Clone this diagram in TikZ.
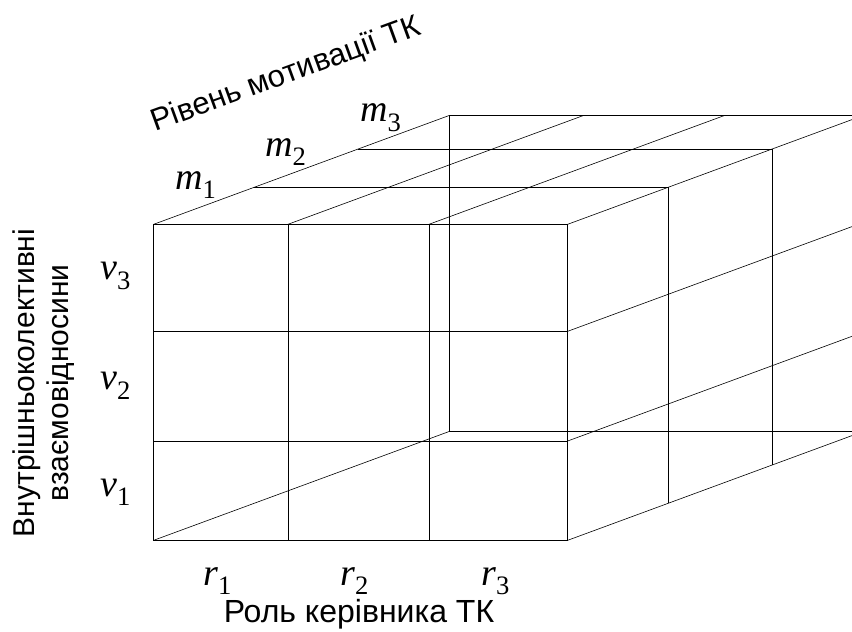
\documentclass[tikz,border=0pt]{standalone}
\usepackage{fontspec}
\setmainfont{Liberation Serif}
\setsansfont{Liberation Sans}
\usetikzlibrary{calc}

\newcommand{\idx}[2]{\textit{#1}\textsubscript{#2}}

\begin{document}
\begin{tikzpicture}[x=1pt, y=1pt, line width=0.6pt,
    axistext/.style={font=\sffamily\fontsize{30}{34}\selectfont},
    idxlabel/.style={font=\fontsize{38}{40}\selectfont, inner sep=0pt}]
    % Frame
    \useasboundingbox (-153.7,-91.7) rectangle (698.3,540.3);
    \clip (-153.7,-91.7) rectangle (698.3,540.3);

    % Sizes of the box
    \def\W{414}
    \def\H{316}
    \def\dx{296}
    \def\dy{109}

    % Front face
    \draw (0,0) rectangle (\W,\H);
    \foreach \x in {134.3,275.3} \draw (\x,0) -- (\x,\H);
    \foreach \y in {99.3,209} \draw (0,\y) -- (\W,\y);

    % Top face
    \foreach \x in {0,134.3,275.3,\W} \draw (\x,\H) -- ++(\dx,\dy);
    \foreach \t in {0.34,0.69}
        \draw ($(0,\H)+\t*(\dx,\dy)$) -- ++(\W,0) -- ++(0,-\H);

    % Right face
    \foreach \y in {0,99.3,209} \draw (\W,\y) -- ++(\dx,\dy);

    % Back edges
    \draw (\dx+\W,\H+\dy) -- (\dx,\H+\dy) -- (\dx,\dy) -- (\dx+\W,\dy);
    \draw (0,0) -- (\dx,\dy);

    % Level labels
    \node[idxlabel, anchor=base west] (m1) at (21.3,350.3) {\idx{m}{1}};
    \node[idxlabel, anchor=base west] (m2) at (111.3,383.6) {\idx{m}{2}};
    \node[idxlabel, anchor=base west] (m3) at (206.3,418.3) {\idx{m}{3}};
    \node[idxlabel, anchor=base west] (v1) at (-53.7,43.6) {\idx{v}{1}};
    \node[idxlabel, anchor=base west] (v2) at (-53.7,150.3) {\idx{v}{2}};
    \node[idxlabel, anchor=base west] (v3) at (-53.7,260.3) {\idx{v}{3}};
    \node[idxlabel, anchor=base west] (r1) at (49.3,-45) {\idx{r}{1}};
    \node[idxlabel, anchor=base west] (r2) at (186.3,-45) {\idx{r}{2}};
    \node[idxlabel, anchor=base west] (r3) at (327.3,-45) {\idx{r}{3}};

    % Axis names
    \node[axistext, anchor=base, font=\sffamily\fontsize{32}{34}\selectfont]
        (role) at (205.3,-82.5) {Роль керівника ТК};
    \node[axistext, rotate=90, align=center] (rel) at (-109.7,157.3)
        {Внутрішньоколективні\\взаємовідносини};
    \node[axistext, anchor=base west, inner sep=0pt, rotate=20,
        font=\sffamily\fontsize{31}{34}\selectfont] (motiv) at (1.3,408.6)
        {Рівень мотивації ТК};
\end{tikzpicture}
\end{document}
